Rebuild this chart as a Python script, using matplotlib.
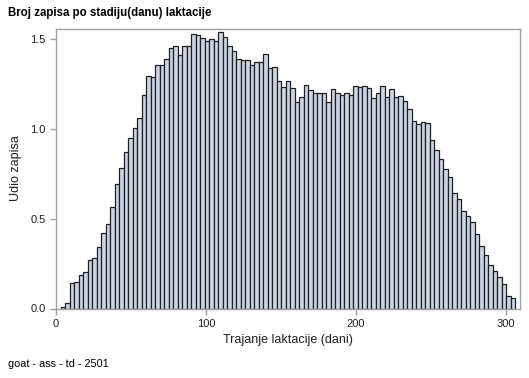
import numpy as np
import matplotlib
matplotlib.use("Agg")
import matplotlib.pyplot as plt

plt.rcParams["font.family"] = ["Liberation Sans", "DejaVu Sans"]

# bins of 3 days, first bin starts at day 3
bin_width = 3
bin_start = 3
udio = [
    0.006, 0.030, 0.143, 0.147, 0.184, 0.206, 0.268, 0.284, 0.344, 0.420,
    0.472, 0.565, 0.695, 0.781, 0.875, 0.948, 1.004, 1.061, 1.190, 1.296,
    1.290, 1.355, 1.355, 1.392, 1.454, 1.463, 1.414, 1.461, 1.465, 1.528,
    1.522, 1.506, 1.491, 1.502, 1.494, 1.539, 1.515, 1.465, 1.433, 1.392,
    1.388, 1.387, 1.359, 1.374, 1.375, 1.420, 1.340, 1.348, 1.271, 1.236,
    1.270, 1.229, 1.149, 1.180, 1.247, 1.219, 1.203, 1.201, 1.203, 1.154,
    1.221, 1.204, 1.191, 1.199, 1.191, 1.243, 1.236, 1.243, 1.232, 1.171,
    1.203, 1.243, 1.178, 1.221, 1.180, 1.182, 1.158, 1.113, 1.045, 1.026,
    1.039, 1.032, 0.941, 0.881, 0.831, 0.777, 0.732, 0.643, 0.608, 0.541,
    0.513, 0.485, 0.416, 0.351, 0.296, 0.243, 0.208, 0.173, 0.134, 0.072,
    0.061,
]
x_ticks = [0, 100, 200, 300]
y_ticks = [0.0, 0.5, 1.0, 1.5]

edges = bin_start + bin_width * np.arange(len(udio))

fig = plt.figure(figsize=(5.29, 3.78), dpi=100)
ax = fig.add_axes([56 / 529, 1 - 308.5 / 378, 464 / 529, 280 / 378])

ax.bar(edges, udio, width=bin_width, align="edge",
       color="#CBD6E4", edgecolor="#202020", linewidth=0.9)

ax.set_xlim(0, 309.3)
ax.set_ylim(0, 1.561)
ax.set_xticks(x_ticks)
ax.set_yticks(y_ticks)
ax.set_yticklabels([f"{v:.1f}" for v in y_ticks])

for s in ax.spines.values():
    s.set_color("#A0A0A0")
    s.set_linewidth(1)
ax.tick_params(colors="#A0A0A0", labelcolor="#202020", labelsize=8,
               length=4, width=1)

ax.set_xlabel("Trajanje laktacije (dani)", fontsize=9, color="#202020", labelpad=4)
ax.set_ylabel("Udio zapisa", fontsize=9, color="#202020", labelpad=6)

fig.text(8 / 529, 1 - 13 / 378, "Broj zapisa po stadiju(danu) laktacije",
         fontsize=8.3, fontweight="bold", va="center", ha="left")
fig.text(8 / 529, 1 - 364 / 378, "goat - ass - td - 2501",
         fontsize=7.8, va="center", ha="left")

fig.savefig("out.png", dpi=100)
